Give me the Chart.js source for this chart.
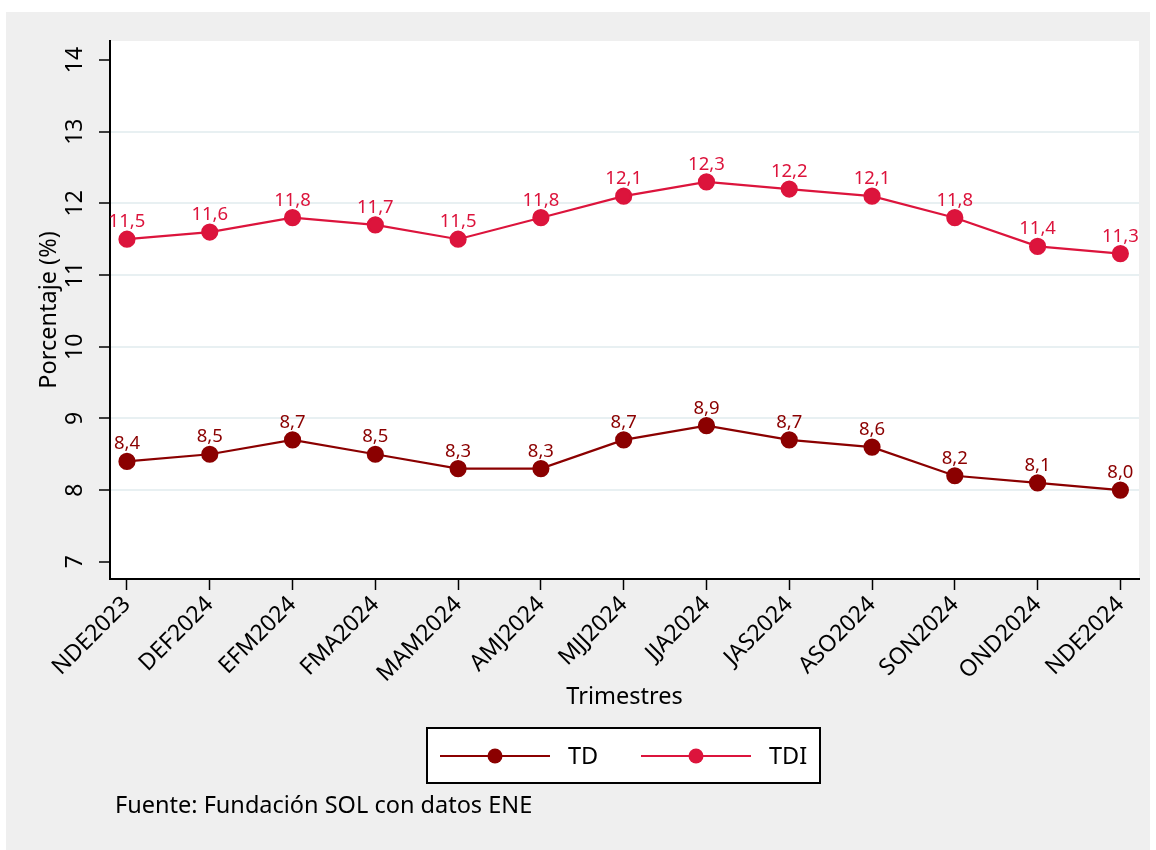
<!DOCTYPE html>
<html>
<head>
<meta charset="utf-8">
<script src="https://cdn.jsdelivr.net/npm/chart.js@4.4.1/dist/chart.umd.min.js"></script>
<style>
  html, body { margin: 0; padding: 0; background: #fff; }
  #wrap { width: 1156px; height: 850px; position: relative; }
</style>
</head>
<body>
<div id="wrap"><canvas id="c" width="1156" height="850"></canvas></div>
<script>
const trimestres = ['NDE2023', 'DEF2024', 'EFM2024', 'FMA2024', 'MAM2024', 'AMJ2024', 'MJJ2024',
                    'JJA2024', 'JAS2024', 'ASO2024', 'SON2024', 'OND2024', 'NDE2024'];
const td  = [8.4, 8.5, 8.7, 8.5, 8.3, 8.3, 8.7, 8.9, 8.7, 8.6, 8.2, 8.1, 8.0];
const tdi = [11.5, 11.6, 11.8, 11.7, 11.5, 11.8, 12.1, 12.3, 12.2, 12.1, 11.8, 11.4, 11.3];
const yTicks = [7, 8, 9, 10, 11, 12, 13, 14];

const FONT = '"Noto Sans", "Open Sans", sans-serif';
const colTD = '#8B0000';
const colTDI = '#DC143C';

function serie(label, values, color) {
    return {
        label: label,
        data: values.map((v, i) => ({x: i, y: v})),
        borderColor: color,
        backgroundColor: color,
        pointBackgroundColor: color,
        pointBorderColor: color,
        pointRadius: 7.5,
        pointHoverRadius: 7.5,
        borderWidth: 2.2,
        tension: 0
    };
}

const fmt = v => v.toFixed(1).replace('.', ',');

// fondo gris + region blanca del grafico
const fondo = {
    id: 'fondo',
    beforeDraw(chart) {
        const ctx = chart.ctx, a = chart.chartArea;
        ctx.save();
        ctx.fillStyle = '#fff';
        ctx.fillRect(0, 0, chart.width, chart.height);
        ctx.fillStyle = '#efefef';
        ctx.fillRect(6, 12, 1144, 838);
        ctx.fillStyle = '#fff';
        ctx.fillRect(a.left, a.top, a.right - a.left, a.bottom - a.top);
        ctx.restore();
    }
};

// etiquetas, titulos, leyenda y fuente
const textos = {
    id: 'textos',
    afterDatasetsDraw(chart) {
        const ctx = chart.ctx, a = chart.chartArea;
        const ys = chart.scales.y;
        ctx.save();

        // valores sobre los puntos
        ctx.font = '18.5px ' + FONT;
        ctx.textAlign = 'center';
        ctx.textBaseline = 'bottom';
        chart.data.datasets.forEach((ds, di) => {
            const meta = chart.getDatasetMeta(di);
            ctx.fillStyle = ds.borderColor;
            meta.data.forEach((pt, i) => {
                ctx.fillText(fmt(ds.data[i].y), pt.x, pt.y - 8);
            });
        });

        // etiquetas eje y (rotadas)
        ctx.fillStyle = '#000';
        ctx.font = '23px ' + FONT;
        yTicks.forEach(t => {
            const py = ys.getPixelForValue(t);
            ctx.save();
            ctx.translate(75, py);
            ctx.rotate(-Math.PI / 2);
            ctx.textAlign = 'center';
            ctx.textBaseline = 'middle';
            ctx.fillText(String(t), 0, 0);
            ctx.restore();
        });

        // titulos de ejes
        ctx.font = '23.5px ' + FONT;
        ctx.save();
        ctx.translate(49, (a.top + a.bottom) / 2);
        ctx.rotate(-Math.PI / 2);
        ctx.textAlign = 'center';
        ctx.textBaseline = 'middle';
        ctx.fillText('Porcentaje (%)', 0, 0);
        ctx.restore();

        ctx.textAlign = 'center';
        ctx.textBaseline = 'middle';
        ctx.fillText('Trimestres', (a.left + a.right) / 2, 697);

        // leyenda
        ctx.fillStyle = '#fff';
        ctx.fillRect(427, 728, 393, 55);
        ctx.strokeStyle = '#000';
        ctx.lineWidth = 2;
        ctx.strokeRect(427, 728, 393, 55);
        const items = [[440, chart.data.datasets[0]], [641, chart.data.datasets[1]]];
        items.forEach(([x0, ds]) => {
            ctx.strokeStyle = ds.borderColor;
            ctx.lineWidth = 2.2;
            ctx.beginPath();
            ctx.moveTo(x0, 756);
            ctx.lineTo(x0 + 110, 756);
            ctx.stroke();
            ctx.fillStyle = ds.borderColor;
            ctx.beginPath();
            ctx.arc(x0 + 55, 756, 7.5, 0, Math.PI * 2);
            ctx.fill();
            ctx.fillStyle = '#000';
            ctx.textAlign = 'left';
            ctx.fillText(ds.label, x0 + 128, 757);
        });

        // fuente
        ctx.fillStyle = '#000';
        ctx.textAlign = 'left';
        ctx.fillText('Fuente: Fundación SOL con datos ENE', 115, 806);
        ctx.restore();
    }
};

new Chart(document.getElementById('c'), {
    type: 'line',
    data: {
        datasets: [serie('TD', td, colTD), serie('TDI', tdi, colTDI)]
    },
    options: {
        responsive: false,
        animation: false,
        layout: { padding: { top: 41, right: 17, bottom: 0, left: 0 } },
        plugins: {
            legend: { display: false },
            tooltip: { enabled: false }
        },
        scales: {
            x: {
                type: 'linear',
                min: -0.205,
                max: 12.225,
                afterBuildTicks: s => { s.ticks = trimestres.map((_, i) => ({value: i})); },
                afterFit: s => { s.height = 271; },
                ticks: {
                    autoSkip: false,
                    minRotation: 45,
                    maxRotation: 45,
                    padding: 1,
                    color: '#000',
                    font: { family: FONT, size: 23 },
                    callback: v => trimestres[v]
                },
                grid: { drawOnChartArea: false, drawTicks: true, tickLength: 11, tickColor: '#000', tickWidth: 1.5 },
                border: { color: '#000', width: 2 }
            },
            y: {
                min: 6.76,
                max: 14.265,
                afterBuildTicks: s => { s.ticks = yTicks.map(v => ({value: v})); },
                afterFit: s => { s.width = 110; },
                ticks: { display: false },
                grid: {
                    color: c => (c.tick && (c.tick.value === 7 || c.tick.value === 14)) ? 'rgba(0,0,0,0)' : '#e8f0f2',
                    lineWidth: 2,
                    drawTicks: true,
                    tickLength: 11,
                    tickColor: '#000',
                    tickWidth: 1.5
                },
                border: { color: '#000', width: 2 }
            }
        }
    },
    plugins: [fondo, textos]
});
</script>
</body>
</html>
